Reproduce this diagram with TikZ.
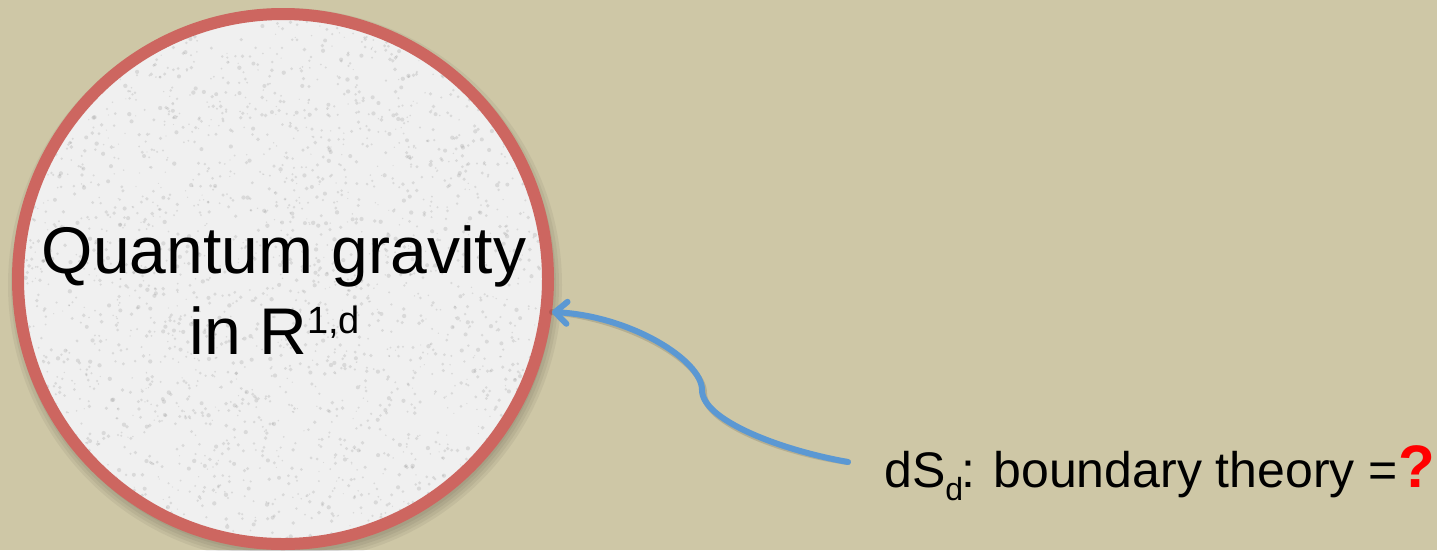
\documentclass[tikz,border=0pt]{standalone}
\usepackage{fontspec}
\setmainfont{Liberation Sans}
\usetikzlibrary{arrows.meta,calc}
\definecolor{bg}{RGB}{206,199,166}
\definecolor{ringred}{RGB}{205,102,96}
\definecolor{arrowblue}{RGB}{91,152,211}
\definecolor{disc}{RGB}{240,240,240}
\begin{document}
\begin{tikzpicture}[x=1pt,y=-1pt,
  bigtext/.style={font=\fontsize{66}{79}\selectfont, inner sep=0pt, text=black},
  smalltext/.style={font=\fontsize{50}{60}\selectfont, inner sep=0pt, text=black},
  disknode/.style={circle, minimum size=530pt, inner sep=0pt, line width=12pt, draw=ringred, fill=disc},
  link/.style={draw=arrowblue, line width=6pt, line cap=round,
    -{Straight Barb[length=12pt,width=22pt,line cap=round,line join=round]}},
  shade/.style={fill=black, opacity=0.05}
]
\fill[bg] (0,0) rectangle (1437,550);
\useasboundingbox (0,0) rectangle (1437,550);
% soft shadow
\foreach \r in {268,271,274,277}{\fill[shade] (285,285) circle[radius=\r pt];}
\node (qg) [disknode] at (283,279) {};
% speckle texture
\begin{scope}
\clip (283,279) circle[radius=259pt];
\pgfmathsetseed{11}
\foreach \i in {1,...,3000}{
  \pgfmathsetmacro\rx{13+540*rnd}
  \pgfmathsetmacro\ry{9+540*rnd}
  \pgfmathsetmacro\rr{0.6+1.6*rnd}
  \fill[gray, opacity=0.2] (\rx,\ry) circle[radius=\rr pt];
}
\end{scope}
\node (l1) [bigtext, anchor=base] at (284,273) {Quantum gravity};
\node (l2) [bigtext, anchor=base] at (275,354) {in R\raisebox{21pt}{\fontsize{38}{38}\selectfont 1,d}};
\node (bt) [smalltext, anchor=base west] at (884,487)
  {dS\raisebox{-13pt}{\fontsize{32}{32}\selectfont d}\kern-2pt: boundary theory =\textcolor{red}{\fontsize{60}{60}\selectfont\bfseries ?}};
\coordinate (start) at ($(bt.base west)+(-36,-25)$);
% arrow shadow
\draw[black, opacity=0.12, line width=6pt, line cap=round, shift={(2,3)}]
  (start) .. controls (780,450) and (702,420) .. (702,390)
  .. controls (702,360) and (630,316) .. (qg.-7.2);
\draw[link] (start) .. controls (780,450) and (702,420) .. (702,390)
  .. controls (702,360) and (630,316) .. (qg.-7.2);
\end{tikzpicture}
\end{document}
